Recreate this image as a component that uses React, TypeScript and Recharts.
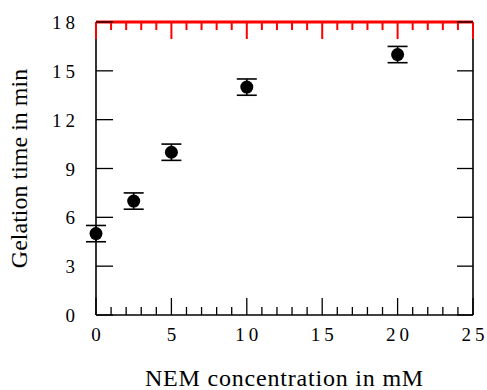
import { ScatterChart, Scatter, XAxis, YAxis, ErrorBar, ReferenceLine } from "recharts";

// NEM concentration (mM) vs gelation time (min)
const nemConc = [0, 2.5, 5, 10, 20];
const gelTime = [5, 7, 10, 14, 16];
const gelErr = [0.5, 0.5, 0.5, 0.5, 0.5];

const xTicks = [
  0, 1, 2, 3, 4, 5, 6, 7, 8, 9, 10, 11, 12, 13, 14, 15, 16, 17, 18, 19, 20,
  21, 22, 23, 24, 25,
];
const yTicks = [0, 3, 6, 9, 12, 15, 18];

const data = nemConc.map((x, i) => ({ x, y: gelTime[i], err: gelErr[i] }));

const INK = "#000";
const TEST = "red";
const serif = { fontFamily: "Liberation Serif, DejaVu Serif, serif" };

const CHART_W = 487;
const CHART_H = 390;
const TOP = 22;
const BOTTOM_AXIS_H = 75;
const PLOT_H = CHART_H - TOP - BOTTOM_AXIS_H;

const BottomTick = (props: any) => {
  const { x, y, payload } = props;
  const major = payload.value % 5 === 0;
  const len = major ? 17 : 8;
  const top = y - PLOT_H;
  return (
    <g>
      <line x1={x} x2={x} y1={y} y2={y - len} stroke={INK} strokeWidth={1.3} />
      <line x1={x} x2={x} y1={top} y2={top + len} stroke={TEST} strokeWidth={2} />
      {major && (
        <text x={x + 2} y={y + 26} textAnchor="middle" style={serif} fontSize={19} letterSpacing={4} fill={INK}>
          {payload.value}
        </text>
      )}
    </g>
  );
};

const LeftTick = (props: any) => {
  const { x, y, payload } = props;
  return (
    <g>
      <line x1={x} x2={x + 17} y1={y} y2={y} stroke={INK} strokeWidth={1.3} />
      <text x={x - 17} y={y + 7} textAnchor="end" style={serif} fontSize={19} letterSpacing={4} fill={INK}>
        {payload.value}
      </text>
    </g>
  );
};

const RightTick = (props: any) => {
  const { x, y } = props;
  return <line x1={x} x2={x - 16} y1={y} y2={y} stroke={INK} strokeWidth={1.3} />;
};

const Dot = (props: any) => <circle cx={props.cx} cy={props.cy} r={6.5} fill={INK} />;
const NoDot = () => <g />;

const XTitle = (props: any) => {
  const vb = props.viewBox;
  return (
    <text x={vb.x + vb.width / 2} y={vb.y + 71} textAnchor="middle" style={serif} fontSize={24} letterSpacing={0.8} fill={INK}>
      NEM concentration in mM
    </text>
  );
};

const YTitle = (props: any) => {
  const vb = props.viewBox;
  const cx = vb.x + 27;
  const cy = vb.y + vb.height / 2;
  return (
    <text x={cx} y={cy} transform={`rotate(-90, ${cx}, ${cy})`} textAnchor="middle" style={serif} fontSize={24} fill={INK}>
      Gelation time in min
    </text>
  );
};

export default function App() {
  return (
    <div style={{ position: "absolute", left: 0, top: 0, background: "#fff" }}>
      <ScatterChart width={CHART_W} height={CHART_H} margin={{ top: TOP, right: 0, bottom: 0, left: 0 }}>
        <XAxis
          xAxisId="b"
          type="number"
          dataKey="x"
          domain={[0, 25]}
          ticks={xTicks}
          interval={0}
          height={BOTTOM_AXIS_H}
          tickSize={0}
          tickMargin={0}
          tickLine={false}
          tick={<BottomTick />}
          axisLine={{ stroke: INK, strokeWidth: 1.6 }}
          label={<XTitle />}
        />
        <YAxis
          yAxisId="l"
          type="number"
          dataKey="y"
          domain={[0, 18]}
          ticks={yTicks}
          interval={0}
          width={96}
          tickSize={0}
          tickMargin={0}
          tickLine={false}
          tick={<LeftTick />}
          axisLine={{ stroke: INK, strokeWidth: 1.6 }}
          label={<YTitle />}
        />
        <YAxis
          yAxisId="r"
          orientation="right"
          type="number"
          dataKey="y"
          domain={[0, 18]}
          ticks={yTicks}
          interval={0}
          width={14}
          tickSize={0}
          tickMargin={0}
          tickLine={false}
          tick={<RightTick />}
          axisLine={{ stroke: INK, strokeWidth: 1.6 }}
        />
        <ReferenceLine xAxisId="b" yAxisId="l" y={18} stroke={TEST} strokeWidth={3} />
        <Scatter data={data} xAxisId="b" yAxisId="r" shape={<NoDot />} isAnimationActive={false} />
        <Scatter data={data} xAxisId="b" yAxisId="l" shape={<Dot />} isAnimationActive={false}>
          <ErrorBar dataKey="err" direction="y" width={10} stroke={INK} strokeWidth={1.6} isAnimationActive={false} />
        </Scatter>
      </ScatterChart>
    </div>
  );
}
